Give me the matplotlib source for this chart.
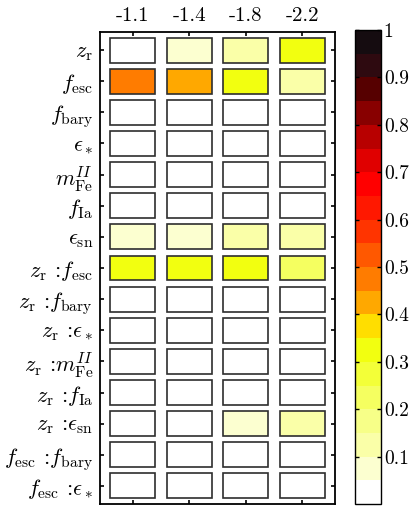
import matplotlib
matplotlib.use("Agg")
import matplotlib.pyplot as plt
from matplotlib.colors import ListedColormap, BoundaryNorm
from matplotlib.cm import ScalarMappable
import numpy as np

plt.rcParams['mathtext.fontset'] = 'cm'
plt.rcParams['axes.formatter.use_mathtext'] = True

# ---------------- data ----------------
columns = ["-1.1", "-1.4", "-1.8", "-2.2"]
rows = [r"$z_{\rm r}$", r"$f_{\rm esc}$", r"$f_{\rm bary}$", r"$\epsilon_*$",
        r"$m_{\rm Fe}^{II}$", r"$f_{\rm Ia}$", r"$\epsilon_{\rm sn}$",
        r"$z_{\rm r}$ :$f_{\rm esc}$", r"$z_{\rm r}$ :$f_{\rm bary}$",
        r"$z_{\rm r}$ :$\epsilon_*$", r"$z_{\rm r}$ :$m_{\rm Fe}^{II}$",
        r"$z_{\rm r}$ :$f_{\rm Ia}$", r"$z_{\rm r}$ :$\epsilon_{\rm sn}$",
        r"$f_{\rm esc}$ :$f_{\rm bary}$", r"$f_{\rm esc}$ :$\epsilon_*$"]

col_m11 = [0.02, 0.47, 0.01, 0.01, 0.01, 0.01, 0.07, 0.32, 0.01, 0.01, 0.01, 0.01, 0.01, 0.01, 0.01]
col_m14 = [0.07, 0.42, 0.01, 0.01, 0.01, 0.01, 0.07, 0.32, 0.01, 0.01, 0.01, 0.01, 0.01, 0.01, 0.01]
col_m18 = [0.12, 0.32, 0.01, 0.01, 0.01, 0.01, 0.12, 0.32, 0.01, 0.01, 0.01, 0.01, 0.07, 0.01, 0.01]
col_m22 = [0.32, 0.12, 0.01, 0.01, 0.01, 0.01, 0.12, 0.22, 0.01, 0.01, 0.01, 0.01, 0.12, 0.01, 0.01]
values = [col_m11, col_m14, col_m18, col_m22]

cbar_ticks = [0.1, 0.2, 0.3, 0.4, 0.5, 0.6, 0.7, 0.8, 0.9, 1.0]
cbar_labels = ["0.1", "0.2", "0.3", "0.4", "0.5", "0.6", "0.7", "0.8", "0.9", "1"]

level_colors = ["#ffffff", "#fcffd0", "#faffa8", "#f7ff88", "#f5ff60",
                "#f3ff38", "#f2ff10", "#ffde00", "#ffa800", "#ff7c00",
                "#ff5800", "#ff3400", "#ff1800", "#ff0000", "#e00000",
                "#b80000", "#880000", "#560000", "#2e0a10", "#150c10"]
bounds = np.linspace(0, 1, 21)

cmap = ListedColormap(level_colors)
norm = BoundaryNorm(bounds, cmap.N)

# ---------------- figure ----------------
W, H = 409, 508
fig = plt.figure(figsize=(W / 100, H / 100), dpi=100)
ax = fig.add_axes([100 / W, 4 / H, 235 / W, 472 / H])
cax = fig.add_axes([355 / W, 4 / H, 26 / W, 474 / H])

nrows = len(rows)
ypos = np.arange(1, nrows + 1)
for j, colvals in enumerate(values):
    ax.bar(np.full(nrows, j + 1), np.full(nrows, 0.8), bottom=ypos - 0.4,
           width=0.8, color=cmap(norm(np.array(colvals))),
           edgecolor="#2e2e2e", linewidth=1.2)

ax.set_xlim(0.42, 4.58)
ax.set_ylim(15.58, 0.42)
ax.set_xticks(np.arange(1, len(columns) + 1))
ax.set_xticklabels(columns, family="cmr10", fontsize=15)
ax.set_yticks(ypos)
ax.set_yticklabels(rows, family="cmr10", fontsize=16)
ax.tick_params(axis="x", top=True, bottom=True, labeltop=True, labelbottom=False,
               direction="in", length=3, width=1.2, pad=5)
ax.tick_params(axis="y", left=True, right=True, direction="in", length=3,
               width=1.2, pad=5)
for s in ax.spines.values():
    s.set_linewidth(1.3)

sm = ScalarMappable(norm=norm, cmap=cmap)
cb = fig.colorbar(sm, cax=cax, boundaries=bounds, ticks=cbar_ticks)
cb.ax.set_yticklabels(cbar_labels, family="cmr10", fontsize=14)
cb.ax.tick_params(direction="in", length=3, width=1.0, left=True, right=True, pad=2)
cb.outline.set_linewidth(1.0)
cb.ax.minorticks_off()

fig.savefig("out.png", dpi=100)
